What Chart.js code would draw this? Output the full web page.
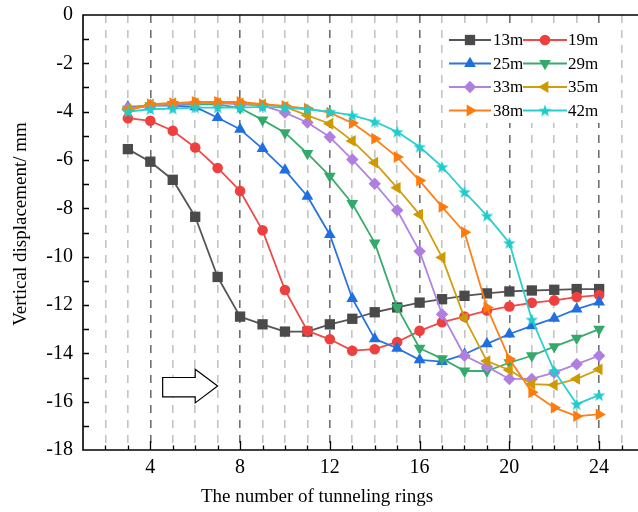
<!DOCTYPE html>
<html><head><meta charset="utf-8">
<script src="https://cdn.jsdelivr.net/npm/chart.js@4/dist/chart.umd.min.js"></script>
<style>
html,body{margin:0;padding:0;background:#fff;overflow:hidden;width:638px;height:512px}
#wrap{position:relative;width:700px;height:512px}
</style></head>
<body><div id="wrap"><canvas id="c" width="700" height="512"></canvas></div>
<script>
// ---- data ----
const rings = [3,4,5,6,7,8,9,10,11,12,13,14,15,16,17,18,19,20,21,22,23,24];
const seriesNames = ['13m','19m','25m','29m','33m','35m','38m','42m'];
const d13 = [-5.55,-6.07,-6.82,-8.35,-10.84,-12.48,-12.8,-13.1,-13.1,-12.8,-12.57,-12.3,-12.1,-11.9,-11.76,-11.62,-11.52,-11.44,-11.4,-11.37,-11.34,-11.34];
const d19 = [-4.27,-4.38,-4.79,-5.48,-6.33,-7.28,-8.91,-11.38,-13.07,-13.42,-13.89,-13.83,-13.53,-13.07,-12.71,-12.48,-12.23,-12.06,-11.91,-11.81,-11.67,-11.59];
const d25 = [-3.8,-3.75,-3.75,-3.8,-4.25,-4.73,-5.53,-6.42,-7.5,-9.09,-11.73,-13.4,-13.79,-14.27,-14.34,-14.04,-13.61,-13.2,-12.86,-12.55,-12.17,-11.88];
const d29 = [-3.9,-3.75,-3.7,-3.7,-3.7,-3.85,-4.34,-4.87,-5.73,-6.67,-7.8,-9.43,-12.1,-13.79,-14.22,-14.73,-14.73,-14.39,-14.1,-13.72,-13.37,-13.0];
const d33 = [-3.85,-3.75,-3.7,-3.65,-3.65,-3.7,-3.75,-4.04,-4.45,-5.05,-5.98,-6.98,-8.08,-9.78,-12.38,-14.1,-14.55,-15.06,-15.06,-14.8,-14.45,-14.1];
const d35 = [-3.9,-3.7,-3.65,-3.65,-3.65,-3.65,-3.7,-3.8,-4.15,-4.5,-5.21,-6.11,-7.15,-8.26,-10.03,-12.54,-14.32,-14.69,-15.27,-15.31,-15.06,-14.66];
const d38 = [-3.97,-3.69,-3.65,-3.6,-3.6,-3.6,-3.69,-3.76,-3.87,-4.04,-4.47,-5.12,-5.88,-6.85,-7.94,-8.99,-12.1,-14.23,-15.61,-16.25,-16.6,-16.53];
const d42 = [-4.0,-3.9,-3.87,-3.83,-3.83,-3.83,-3.8,-3.83,-3.9,-4.0,-4.15,-4.41,-4.83,-5.45,-6.28,-7.32,-8.3,-9.43,-12.6,-14.73,-16.1,-15.73];
const seriesValues = [d13,d19,d25,d29,d33,d35,d38,d42];
const xTickLabels = [4,8,12,16,20,24];
const yTickLabels = [0,-2,-4,-6,-8,-10,-12,-14,-16,-18];

// ---- styles ----
const colors = ['#4a4a4a','#ef4040','#1f6fe0','#33aa6a','#b07ee0','#cf9a00','#ff7b0c','#1fcccc'];
const lineColors = ['#555555','#ef4a4a','#2a74e0','#3aac6e','#b084e0','#d09e10','#ff801a','#2ccfcf'];
function makeStar(color){
  const s = 16, c = document.createElement('canvas'); c.width = s; c.height = s;
  const g = c.getContext('2d'); g.fillStyle = color; g.beginPath();
  const R = 6.6, r = 2.7;
  for (let i = 0; i < 10; i++) {
    const a = -Math.PI/2 + i*Math.PI/5, rr = i%2 ? r : R;
    const px = s/2 + rr*Math.cos(a), py = s/2 + 0.6 + rr*Math.sin(a);
    i ? g.lineTo(px,py) : g.moveTo(px,py);
  }
  g.closePath(); g.fill(); return c;
}
const star = makeStar(colors[7]);
const markers = [
  {style:'rect', r:7.3, rot:0},
  {style:'circle', r:5.3, rot:0},
  {style:'triangle', r:6.8, rot:0},
  {style:'triangle', r:6.8, rot:180},
  {style:'rectRot', r:6.2, rot:0},
  {style:'triangle', r:6.8, rot:270},
  {style:'triangle', r:6.8, rot:90},
  {style:star, r:7, rot:0}
];
const FONT = "'Liberation Serif', 'Times New Roman', serif";

const datasets = seriesNames.map((name,i)=>({
  label: name,
  data: rings.map((x,k)=>({x:x, y:seriesValues[i][k]})),
  borderColor: lineColors[i],
  backgroundColor: colors[i],
  pointBackgroundColor: colors[i],
  pointBorderColor: colors[i],
  pointBorderWidth: 0,
  pointStyle: markers[i].style,
  pointRadius: markers[i].r,
  pointHoverRadius: markers[i].r,
  pointRotation: markers[i].rot,
  borderWidth: 1.8,
  tension: 0,
  order: seriesNames.length - 1 - i
}));

// arrow annotation in data units
const arrowSpec = {x0:4.55, xh:6.0, x1:7.0, yTop:-14.66, yBodyTop:-15.0, yBodyBot:-15.8, yBot:-16.05};

const decor = {
  id:'decor',
  beforeDatasetsDraw(chart){
    const {ctx, scales:{x,y}} = chart;
    ctx.save();
    const X = v=>x.getPixelForValue(v), Y = v=>y.getPixelForValue(v);
    const yc = (Y(arrowSpec.yTop)+Y(arrowSpec.yBot))/2;
    ctx.beginPath();
    ctx.moveTo(X(arrowSpec.x0), Y(arrowSpec.yBodyTop));
    ctx.lineTo(X(arrowSpec.xh), Y(arrowSpec.yBodyTop));
    ctx.lineTo(X(arrowSpec.xh), Y(arrowSpec.yTop));
    ctx.lineTo(X(arrowSpec.x1), yc);
    ctx.lineTo(X(arrowSpec.xh), Y(arrowSpec.yBot));
    ctx.lineTo(X(arrowSpec.xh), Y(arrowSpec.yBodyBot));
    ctx.lineTo(X(arrowSpec.x0), Y(arrowSpec.yBodyBot));
    ctx.closePath();
    ctx.fillStyle='#fff'; ctx.fill();
    ctx.strokeStyle='#000'; ctx.lineWidth=1.2; ctx.stroke();
    ctx.restore();
  },
  afterDraw(chart){
    const {ctx, chartArea:a, scales:{x,y}} = chart;
    ctx.save();
    // frame
    ctx.strokeStyle='#000'; ctx.lineWidth=1.6;
    ctx.beginPath();
    ctx.moveTo(a.right+10, a.top); ctx.lineTo(a.left, a.top); ctx.lineTo(a.left, a.bottom); ctx.lineTo(a.right+10, a.bottom);
    ctx.stroke();
    ctx.lineWidth=1.3;
    ctx.beginPath();
    for (let v = x.min+1; v <= x.max; v++) {
      const px = Math.round(x.getPixelForValue(v))+0.5;
      const len = v%4===0 ? 9 : 4.5;
      ctx.moveTo(px, a.bottom); ctx.lineTo(px, a.bottom-len);
    }
    for (let v = y.min+1; v < y.max; v++) {
      const py = Math.round(y.getPixelForValue(v))+0.5;
      ctx.moveTo(a.left, py); ctx.lineTo(a.left+6, py);
    }
    ctx.stroke();
    // legend
    const colL = [449,523], colMk=[470,545], colR=[491,567], colT=[493,568];
    ctx.fillStyle='#fff'; ctx.fillRect(446, 27, 160, 96);
    ctx.font = "17px " + FONT; ctx.textBaseline='middle'; ctx.textAlign='left';
    chart.data.datasets.forEach((ds,i)=>{
      const row = Math.floor(i/2), col = i%2, yy = 40 + row*23.5;
      ctx.strokeStyle = ds.borderColor; ctx.lineWidth = 1.8;
      ctx.beginPath(); ctx.moveTo(colL[col], yy); ctx.lineTo(colR[col], yy); ctx.stroke();
      ctx.fillStyle = ds.pointBackgroundColor; ctx.strokeStyle = ds.pointBorderColor;
      Chart.helpers.drawPoint(ctx, {pointStyle: ds.pointStyle, radius: ds.pointRadius, rotation: ds.pointRotation, borderWidth: 0}, colMk[col], yy);
      ctx.fillStyle='#000';
      ctx.fillText(ds.label, colT[col], yy+1);
    });
    // axis titles
    ctx.fillStyle='#000'; ctx.font = "19px " + FONT;
    ctx.textAlign='center'; ctx.textBaseline='middle';
    ctx.fillText('The number of tunneling rings', 317, 497);
    ctx.save(); ctx.translate(21, 224); ctx.rotate(-Math.PI/2);
    ctx.fillText('Vertical displacement/ mm', 0, 0); ctx.restore();
    ctx.restore();
  }
};

new Chart(document.getElementById('c'), {
  type:'line',
  data:{datasets},
  plugins:[decor],
  options:{
    responsive:false, animation:false, devicePixelRatio:1,
    layout:{padding:{left:0,right:56,top:15,bottom:0}},
    plugins:{legend:{display:false}, tooltip:{enabled:false}},
    elements:{line:{borderJoinStyle:'round'}},
    scales:{
      x:{type:'linear', min:1, max:26,
        afterFit(s){s.height=62; s.paddingLeft=0; s.paddingRight=0;},
        afterBuildTicks(s){ s.ticks = []; for(let v=1; v<=26; v++) s.ticks.push({value:v}); },
        grid:{drawTicks:false, lineWidth:1.6,
          color: c => (c.tick && (c.tick.value===1 || c.tick.value===26)) ? 'rgba(0,0,0,0)' : (c.tick && c.tick.value%4===0 ? '#707070' : '#c4c4c4')},
        border:{display:false, dash:[8,7]},
        ticks:{autoSkip:false, maxRotation:0, padding:6, color:'#000', font:{family:FONT, size:20},
          callback: v => xTickLabels.includes(v) ? String(v) : ''}
      },
      y:{type:'linear', min:-18, max:0,
        afterFit(s){s.width=83; s.paddingTop=0; s.paddingBottom=0;},
        afterBuildTicks(s){ s.ticks = yTickLabels.map(v=>({value:v})); },
        grid:{display:false, drawTicks:false},
        border:{display:false},
        ticks:{padding:10, color:'#000', font:{family:FONT, size:20}, callback: v => String(v)}
      }
    }
  }
});
</script></body></html>
